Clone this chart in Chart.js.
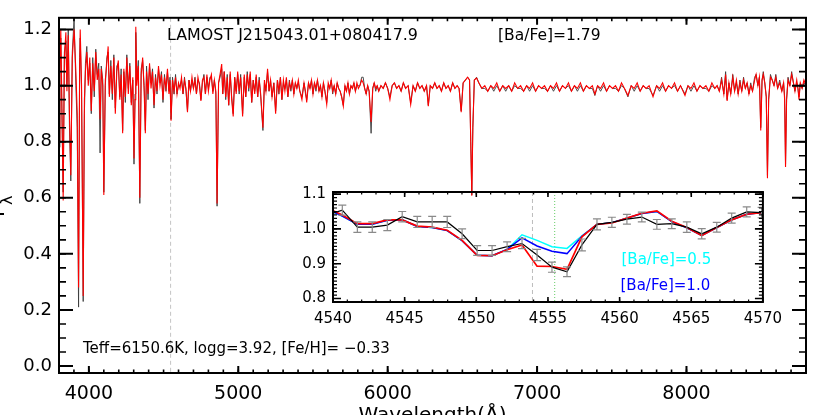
<!DOCTYPE html>
<html>
<head>
<meta charset="utf-8">
<script src="https://cdn.jsdelivr.net/npm/chart.js@4.4.0/dist/chart.umd.min.js"></script>
<style>
  html, body { margin: 0; padding: 0; background: #fff; overflow: hidden; }
  #wrap { position: relative; width: 830px; height: 415px; overflow: hidden; background: #fff; }
  #mainChart { position: absolute; left: 0; top: 0; }
  #insetChart { position: absolute; left: 290px; top: 176px; }
</style>
</head>
<body>
<div id="wrap">
  <canvas id="mainChart" width="830" height="430"></canvas>
  <canvas id="insetChart" width="500" height="154"></canvas>
</div>
<script>
// full LAMOST spectrum
const specWave = [
  3800, 3806, 3812, 3819, 3828, 3836, 3846, 3853, 3862, 3870,
  3879, 3889, 3901, 3913, 3922, 3931, 3938, 3942, 3951, 3962,
  3970, 3977, 3986, 3996, 4006, 4016, 4026, 4036, 4046, 4056,
  4066, 4075, 4083, 4093, 4100, 4110, 4120, 4129, 4137, 4147,
  4157, 4167, 4177, 4187, 4197, 4207, 4216, 4226, 4234, 4244,
  4254, 4264, 4274, 4284, 4294, 4302, 4309, 4314, 4321, 4331,
  4341, 4350, 4360, 4370, 4378, 4386, 4396, 4406, 4416, 4426,
  4436, 4446, 4456, 4466, 4476, 4486, 4496, 4506, 4516, 4526,
  4536, 4543, 4550, 4560, 4570, 4580, 4590, 4600, 4610, 4620,
  4630, 4640, 4650, 4660, 4670, 4680, 4690, 4700, 4710, 4720,
  4730, 4740, 4750, 4760, 4770, 4780, 4790, 4800, 4810, 4820,
  4830, 4840, 4850, 4858, 4868, 4878, 4889, 4896, 4906, 4916,
  4926, 4936, 4946, 4956, 4966, 4976, 4986, 4996, 5006, 5016,
  5029, 5040, 5050, 5060, 5070, 5080, 5090, 5100, 5110, 5120,
  5130, 5140, 5150, 5165, 5175, 5185, 5196, 5206, 5216, 5226,
  5238, 5250, 5262, 5272, 5282, 5292, 5302, 5312, 5322, 5332,
  5342, 5352, 5362, 5372, 5382, 5392, 5402, 5412, 5426, 5440,
  5450, 5458, 5470, 5480, 5490, 5500, 5510, 5520, 5530, 5540,
  5550, 5560, 5570, 5580, 5592, 5602, 5612, 5622, 5632, 5642,
  5652, 5662, 5672, 5682, 5692, 5703, 5714, 5724, 5734, 5744,
  5754, 5764, 5774, 5784, 5794, 5804, 5814, 5826, 5836, 5846,
  5856, 5866, 5876, 5889, 5900, 5910, 5920, 5930, 5940, 5955,
  5970, 5985, 6000, 6015, 6030, 6045, 6060, 6075, 6090, 6105,
  6120, 6137, 6154, 6170, 6185, 6200, 6215, 6230, 6245, 6260,
  6272, 6285, 6300, 6315, 6330, 6345, 6360, 6375, 6390, 6405,
  6420, 6435, 6450, 6465, 6478, 6492, 6505, 6520, 6535, 6548,
  6556, 6563, 6570, 6580, 6595, 6610, 6630, 6650, 6670, 6690,
  6710, 6730, 6750, 6770, 6790, 6810, 6830, 6850, 6870, 6890,
  6910, 6930, 6950, 6970, 6990, 7010, 7030, 7050, 7070, 7090,
  7110, 7130, 7150, 7170, 7190, 7210, 7230, 7250, 7270, 7290,
  7310, 7330, 7350, 7370, 7387, 7405, 7425, 7445, 7465, 7485,
  7505, 7525, 7545, 7565, 7585, 7608, 7630, 7650, 7670, 7690,
  7710, 7730, 7750, 7776, 7800, 7820, 7840, 7860, 7880, 7900,
  7920, 7940, 7960, 7990, 8010, 8030, 8050, 8070, 8090, 8110,
  8130, 8150, 8170, 8190, 8205, 8220, 8235, 8250, 8262, 8272,
  8284, 8296, 8310, 8322, 8334, 8346, 8358, 8370, 8382, 8394,
  8406, 8418, 8430, 8442, 8456, 8466, 8478, 8488, 8497, 8506,
  8514, 8524, 8534, 8542, 8550, 8562, 8574, 8586, 8598, 8610,
  8624, 8638, 8650, 8657, 8663, 8670, 8680, 8692, 8704, 8716,
  8726, 8738, 8746, 8753, 8762, 8774, 8786, 8800,
];
const specModel = [
  0.80, 1.05, 1.20, 0.95, 0.59, 1.10, 1.19, 0.98, 1.18, 0.90,
  0.68, 1.10, 1.20, 1.05, 0.90, 0.28, 1.05, 1.20, 1.00, 0.25,
  0.95, 1.05, 1.12, 1.00, 1.10, 0.91, 1.08, 0.98, 1.12, 1.02,
  1.06, 0.88, 1.06, 1.00, 0.61, 1.02, 1.08, 1.14, 0.96, 1.07,
  0.97, 1.10, 0.90, 1.05, 1.09, 0.95, 1.04, 0.83, 1.06, 0.96,
  1.10, 0.97, 1.07, 0.93, 1.03, 0.74, 0.95, 1.21, 1.00, 1.07,
  0.60, 1.04, 1.10, 0.98, 0.83, 1.05, 0.97, 1.08, 0.99, 1.05,
  0.93, 1.03, 0.98, 1.07, 1.00, 1.04, 0.95, 1.03, 0.99, 1.06,
  0.97, 1.02, 0.875, 1.02, 0.98, 1.03, 0.97, 1.01, 0.99, 1.03,
  0.97, 1.02, 0.99, 0.905, 1.02, 0.98, 1.03, 0.99, 1.02, 0.97,
  1.03, 1.00, 0.945, 1.02, 1.03, 0.97, 1.04, 0.98, 1.02, 1.04,
  0.97, 1.02, 0.98, 0.58, 1.01, 1.04, 1.077, 0.97, 1.05, 0.96,
  1.03, 0.93, 1.05, 0.95, 0.89, 1.03, 0.97, 1.05, 0.98, 1.03,
  0.89, 1.04, 0.96, 1.04, 0.99, 1.05, 0.94, 1.02, 0.97, 1.04,
  0.96, 1.02, 0.97, 0.85, 1.02, 0.98, 1.06, 0.98, 1.02, 0.96,
  1.01, 0.90, 1.02, 0.98, 1.03, 0.95, 1.02, 0.98, 1.03, 0.96,
  1.01, 0.99, 1.02, 0.97, 1.01, 0.99, 1.02, 0.98, 0.95, 1.01,
  0.98, 0.94, 1.01, 0.99, 1.02, 0.97, 1.01, 0.99, 1.02, 0.98,
  1.00, 0.96, 1.01, 0.98, 0.933, 1.01, 0.99, 1.02, 0.98, 1.00,
  0.97, 1.01, 0.99, 0.98, 0.96, 0.927, 1.00, 0.98, 1.01, 0.97,
  1.00, 0.99, 1.01, 0.98, 1.01, 0.99, 1.00, 1.02, 1.01, 0.99,
  0.97, 1.00, 0.98, 0.87, 0.99, 1.01, 0.99, 1.00, 0.98, 1.00,
  0.99, 1.01, 0.99, 0.95, 1.00, 1.01, 0.99, 1.00, 0.98, 1.01,
  0.99, 1.00, 0.933, 1.00, 0.98, 1.01, 0.99, 1.00, 0.98, 1.00,
  0.927, 1.00, 0.99, 1.01, 0.99, 1.00, 0.98, 1.01, 0.99, 1.00,
  0.98, 1.01, 0.99, 1.00, 0.99, 0.905, 1.01, 1.02, 1.03, 1.02,
  0.80, 0.607, 0.85, 1.02, 1.027, 1.01, 0.99, 1.00, 0.98, 1.00,
  0.99, 1.01, 0.98, 1.00, 0.99, 1.00, 0.98, 1.01, 0.99, 1.00,
  0.98, 1.00, 0.99, 1.01, 0.98, 1.00, 0.99, 1.00, 0.98, 1.00,
  0.99, 1.01, 0.98, 1.00, 0.99, 1.01, 0.98, 1.00, 0.99, 1.01,
  0.98, 1.00, 0.99, 1.00, 0.97, 1.00, 0.99, 1.01, 0.98, 1.00,
  0.99, 1.00, 0.98, 1.01, 0.99, 0.965, 1.00, 0.99, 1.01, 0.98,
  1.00, 0.99, 1.00, 0.96, 1.00, 0.99, 1.01, 0.98, 1.00, 0.99,
  1.01, 0.98, 1.00, 0.965, 1.00, 0.99, 1.01, 0.98, 1.00, 0.99,
  1.00, 0.98, 1.01, 0.99, 1.00, 0.98, 1.02, 0.97, 1.04, 0.945,
  1.01, 0.97, 1.03, 0.98, 1.02, 0.97, 1.01, 0.98, 1.02, 0.99,
  1.01, 0.97, 1.00, 0.98, 1.02, 1.04, 1.00, 1.03, 0.84, 1.02,
  1.04, 1.01, 0.96, 0.67, 0.95, 1.03, 1.02, 1.00, 1.03, 0.99,
  1.01, 0.98, 1.01, 0.95, 0.71, 0.95, 1.02, 1.00, 1.04, 1.01,
  0.98, 1.02, 0.99, 0.95, 1.01, 0.99, 1.02, 1.00,
];
const specObs = [
  0.78, 1.08, 1.17, 0.92, 0.62, 1.12, 1.16, 1.00, 1.20, 0.85,
  0.66, 1.12, 1.24, 1.00, 0.85, 0.21, 1.10, 1.17, 0.98, 0.23,
  0.90, 1.08, 1.14, 1.02, 1.08, 0.90, 1.10, 0.96, 1.13, 1.04,
  1.08, 0.76, 1.07, 1.02, 0.62, 1.00, 1.10, 1.12, 0.97, 1.09,
  0.95, 1.11, 0.92, 1.07, 1.08, 0.96, 1.06, 0.84, 1.05, 0.94,
  1.11, 0.99, 1.08, 0.94, 1.02, 0.72, 0.97, 1.19, 1.02, 1.09,
  0.58, 1.06, 1.09, 1.00, 0.84, 1.07, 0.95, 1.07, 1.01, 1.06,
  0.92, 1.04, 0.97, 1.06, 1.01, 1.05, 0.94, 1.04, 0.98, 1.05,
  0.98, 1.03, 0.88, 1.03, 0.97, 1.04, 0.97, 1.00, 1.00, 1.02,
  0.97, 1.03, 0.98, 0.91, 1.02, 0.98, 1.02, 0.99, 1.03, 0.97,
  1.02, 1.01, 0.95, 1.01, 1.04, 0.97, 1.03, 0.99, 1.03, 1.03,
  0.98, 1.02, 0.97, 0.57, 1.01, 1.03, 1.06, 0.97, 1.05, 0.95,
  1.04, 0.93, 1.04, 0.96, 0.90, 1.03, 0.98, 1.04, 0.97, 1.04,
  0.90, 1.03, 0.96, 1.05, 0.98, 1.04, 0.94, 1.02, 0.98, 1.03,
  0.96, 1.03, 0.96, 0.84, 1.01, 0.98, 1.05, 0.98, 1.02, 0.96,
  1.01, 0.91, 1.02, 0.97, 1.03, 0.95, 1.01, 0.99, 1.02, 0.96,
  1.02, 0.98, 1.02, 0.97, 1.01, 0.99, 1.01, 0.98, 0.96, 1.01,
  0.97, 0.95, 1.01, 0.99, 1.02, 0.97, 1.01, 0.98, 1.02, 0.98,
  1.00, 0.96, 1.01, 0.98, 0.94, 1.00, 0.99, 1.02, 0.97, 1.00,
  0.97, 1.01, 0.99, 0.98, 0.96, 0.93, 1.00, 0.98, 1.01, 0.97,
  1.00, 0.99, 1.01, 0.98, 1.00, 1.00, 1.00, 1.03, 1.03, 0.99,
  0.97, 1.00, 0.98, 0.83, 0.99, 1.01, 0.98, 1.00, 0.98, 1.00,
  0.99, 1.01, 0.99, 0.96, 1.00, 1.01, 0.99, 1.00, 0.98, 1.01,
  0.99, 1.00, 0.94, 1.00, 0.98, 1.01, 0.99, 1.00, 0.98, 1.00,
  0.93, 1.00, 0.99, 1.01, 0.99, 1.00, 0.98, 1.01, 0.99, 1.00,
  0.98, 1.01, 0.99, 1.00, 0.99, 0.91, 1.01, 1.02, 1.03, 1.02,
  0.80, 0.61, 0.85, 1.02, 1.03, 1.01, 0.99, 0.99, 0.98, 1.00,
  0.98, 1.00, 0.98, 1.00, 0.98, 1.00, 0.98, 1.00, 0.99, 0.99,
  0.98, 1.00, 0.98, 1.00, 0.98, 1.00, 0.99, 0.99, 0.98, 1.00,
  0.98, 1.00, 0.98, 1.00, 0.99, 1.00, 0.98, 1.00, 0.98, 1.00,
  0.98, 1.00, 0.99, 0.99, 0.965, 1.00, 0.98, 1.00, 0.98, 1.00,
  0.99, 0.99, 0.98, 1.00, 0.99, 0.96, 1.00, 0.98, 1.00, 0.98,
  1.00, 0.99, 0.99, 0.965, 1.00, 0.98, 1.00, 0.98, 1.00, 0.99,
  1.00, 0.98, 1.00, 0.97, 1.00, 0.98, 1.00, 0.98, 1.00, 0.99,
  0.99, 0.98, 1.00, 0.99, 1.00, 0.98, 1.03, 0.97, 1.05, 0.95,
  1.01, 0.97, 1.04, 0.98, 1.01, 0.97, 1.02, 0.98, 1.03, 0.99,
  1.01, 0.97, 1.01, 0.98, 1.03, 1.04, 1.00, 1.03, 0.85, 1.02,
  1.05, 1.01, 0.96, 0.68, 0.95, 1.04, 1.02, 1.00, 1.04, 0.99,
  1.02, 0.98, 1.01, 0.96, 0.72, 0.95, 1.03, 1.00, 1.05, 1.01,
  0.98, 1.01, 0.99, 0.96, 1.01, 0.99, 1.01, 1.00,
];

// inset: Ba II 4554 region
const insetWave = [
  4539.60, 4540.65, 4541.70, 4542.74, 4543.79, 4544.83, 4545.88, 4546.92, 4547.97, 4549.01,
  4550.06, 4551.10, 4552.15, 4553.19, 4554.24, 4555.28, 4556.33, 4557.37, 4558.42, 4559.46,
  4560.51, 4561.55, 4562.60, 4563.64, 4564.69, 4565.73, 4566.78, 4567.82, 4568.87, 4569.91,
];
const insetObs = [
  1.040, 1.054, 1.005, 1.005, 1.011, 1.035, 1.020, 1.020, 1.020, 0.986,
  0.938, 0.938, 0.949, 0.958, 0.925, 0.890, 0.877, 0.954, 1.013, 1.019,
  1.028, 1.034, 1.013, 1.015, 1.005, 0.986, 1.005, 1.031, 1.049, 1.047,
];
const insetErr = [
  0.015, 0.0145, 0.015, 0.015, 0.016, 0.015, 0.016, 0.016, 0.016, 0.014,
  0.014, 0.014, 0.014, 0.0145, 0.016, 0.0145, 0.014, 0.017, 0.016, 0.0145,
  0.014, 0.014, 0.014, 0.014, 0.015, 0.0145, 0.014, 0.0145, 0.0145, 0.015,
];
const insetBa179 = [
  1.060, 1.040, 1.015, 1.015, 1.026, 1.026, 1.008, 1.005, 0.996, 0.967,
  0.924, 0.923, 0.940, 0.954, 0.893, 0.892, 0.884, 0.977, 1.013, 1.017,
  1.031, 1.045, 1.052, 1.022, 1.004, 0.981, 1.004, 1.026, 1.042, 1.047,
];
const insetBa10 = [
  1.057, 1.037, 1.013, 1.013, 1.025, 1.026, 1.007, 1.004, 0.995, 0.966,
  0.924, 0.923, 0.941, 0.974, 0.951, 0.936, 0.929, 0.979, 1.013, 1.018,
  1.031, 1.044, 1.050, 1.021, 1.003, 0.981, 1.004, 1.026, 1.042, 1.047,
];
const insetBa05 = [
  1.057, 1.037, 1.013, 1.013, 1.025, 1.026, 1.007, 1.004, 0.995, 0.966,
  0.924, 0.923, 0.941, 0.983, 0.967, 0.949, 0.944, 0.980, 1.013, 1.018,
  1.031, 1.044, 1.050, 1.021, 1.003, 0.981, 1.004, 1.026, 1.042, 1.047,
];

const mainXTicks = [4000, 5000, 6000, 7000, 8000];
const mainYTicks = [0.0, 0.2, 0.4, 0.6, 0.8, 1.0, 1.2];
const insetXTicks = [4540, 4545, 4550, 4555, 4560, 4565, 4570];
const insetYTicks = [0.8, 0.9, 1.0, 1.1];

const FONT = "'DejaVu Sans', 'Liberation Sans', sans-serif";

function toPoints(xs, ys) {
  return xs.map((x, i) => ({ x: x, y: ys[i] }));
}

// IDL-style frame with inward ticks on all four sides
function drawFrame(chart, t) {
  const { ctx, chartArea: a } = chart;
  const xs = chart.scales.x;
  const ys = chart.scales.y;
  ctx.save();
  ctx.strokeStyle = "#000";

  const xTick = (v, len, lw) => {
    const px = xs.getPixelForValue(v);
    ctx.lineWidth = lw;
    ctx.beginPath();
    ctx.moveTo(px, a.bottom);
    ctx.lineTo(px, a.bottom - len);
    ctx.moveTo(px, a.top);
    ctx.lineTo(px, a.top + len);
    ctx.stroke();
  };
  const yTick = (v, len, lw) => {
    const py = ys.getPixelForValue(v);
    ctx.lineWidth = lw;
    ctx.beginPath();
    ctx.moveTo(a.left, py);
    ctx.lineTo(a.left + len, py);
    ctx.moveTo(a.right, py);
    ctx.lineTo(a.right - len, py);
    ctx.stroke();
  };

  for (let k = 0; ; k++) {
    const v = t.xMinorStart + k * t.xMinorStep;
    if (v > xs.max + 1e-6) break;
    xTick(v, t.xMinorLen, t.minorWidth);
  }
  for (let k = 0; ; k++) {
    const v = t.yMinorStart + k * t.yMinorStep;
    if (v > ys.max + 1e-6) break;
    yTick(v, t.yMinorLen, t.minorWidth);
  }
  t.xMajor.forEach((v) => xTick(v, t.xMajorLen, t.majorWidth));
  t.yMajor.forEach((v) => yTick(v, t.yMajorLen, t.majorWidth));

  ctx.lineWidth = t.frameWidth;
  ctx.strokeRect(a.left, a.top, a.right - a.left, a.bottom - a.top);
  ctx.restore();
}

function drawVLine(chart, value, color, dash, width) {
  const { ctx, chartArea: a } = chart;
  const px = chart.scales.x.getPixelForValue(value);
  ctx.save();
  ctx.strokeStyle = color;
  ctx.lineWidth = width;
  ctx.setLineDash(dash);
  ctx.beginPath();
  ctx.moveTo(px, a.top);
  ctx.lineTo(px, a.bottom);
  ctx.stroke();
  ctx.restore();
}

class SpectrumFigure {
  constructor() {
    Chart.defaults.font.family = FONT;
    Chart.defaults.color = "#000";
    this.initializeMainChart();
    this.initializeInsetChart();
  }

  initializeMainChart() {
    const ctx = document.getElementById("mainChart").getContext("2d");
    this.mainChart = new Chart(ctx, {
      type: "line",
      data: {
        datasets: [
          {
            label: "[Ba/Fe]=1.79",
            data: toPoints(specWave, specModel),
            borderColor: "#ff0000",
            borderWidth: 1.1,
            pointRadius: 0,
            tension: 0,
            order: 0,
          },
          {
            label: "LAMOST",
            data: toPoints(specWave, specObs),
            borderColor: "#3c3c3c",
            borderWidth: 0.9,
            pointRadius: 0,
            tension: 0,
            order: 1,
          },
        ],
      },
      options: {
        responsive: false,
        animation: false,
        events: [],
        layout: { padding: { top: 12, right: 24, left: 0, bottom: 0 } },
        plugins: { legend: { display: false }, tooltip: { enabled: false } },
        scales: {
          x: {
            type: "linear",
            min: 3800,
            max: 8800,
            grid: { display: false, drawTicks: false },
            border: { display: false },
            ticks: {
              font: { size: 19 },
              padding: 10,
              maxRotation: 0,
              autoSkip: false,
              callback: (v) => String(v),
            },
            afterBuildTicks: (s) => {
              s.ticks = mainXTicks.map((v) => ({ value: v }));
            },
            afterFit: (s) => {
              s.height = 57;
            },
            title: {
              display: true,
              text: "Wavelength(Å)",
              font: { size: 20 },
              padding: { top: 0, bottom: 2 },
            },
          },
          y: {
            type: "linear",
            min: -0.025,
            max: 1.242,
            grid: { display: false, drawTicks: false },
            border: { display: false },
            ticks: {
              font: { size: 18 },
              padding: 7,
              autoSkip: false,
              callback: (v) => v.toFixed(1),
            },
            afterBuildTicks: (s) => {
              s.ticks = mainYTicks.map((v) => ({ value: v }));
            },
            afterFit: (s) => {
              s.width = 59;
            },
          },
        },
      },
      plugins: [
        {
          id: "mainDecor",
          beforeDatasetsDraw: (chart) => {
            drawVLine(chart, 4547, "#c4c4c4", [4, 3], 1);
          },
          afterDraw: (chart) => {
            drawFrame(chart, {
              xMajor: mainXTicks, xMinorStart: 3800, xMinorStep: 100,
              yMajor: mainYTicks, yMinorStart: 0, yMinorStep: 0.05,
              xMajorLen: 7, xMinorLen: 3.5, yMajorLen: 14, yMinorLen: 7,
              majorWidth: 2, minorWidth: 1.6, frameWidth: 2,
            });
            const c = chart.ctx;
            c.save();
            c.fillStyle = "#000";
            c.textBaseline = "alphabetic";
            c.font = `15.9px ${FONT}`;
            c.fillText("LAMOST J215043.01+080417.9", 167, 40);
            c.font = `15.5px ${FONT}`;
            c.fillText("[Ba/Fe]=1.79", 498, 40);
            c.font = `15px ${FONT}`;
            c.fillText("Teff=6150.6K, logg=3.92, [Fe/H]= \u22120.33", 83, 352.5);
            // y title, mostly outside the window
            c.translate(4, 217);
            c.rotate(-Math.PI / 2);
            c.font = `20px ${FONT}`;
            c.fillText("F", 0, 0);
            c.font = `16px ${FONT}`;
            c.fillText("\u03bb", 12, 8);
            c.restore();
          },
        },
      ],
    });
  }

  initializeInsetChart() {
    const ctx = document.getElementById("insetChart").getContext("2d");
    const line = (label, ys, color, width, order) => ({
      label: label,
      data: toPoints(insetWave, ys),
      borderColor: color,
      borderWidth: width,
      pointRadius: 0,
      tension: 0,
      order: order,
    });
    this.insetChart = new Chart(ctx, {
      type: "line",
      data: {
        datasets: [
          line("observed", insetObs, "#000000", 1.2, 0),
          line("[Ba/Fe]=1.79", insetBa179, "#ff0000", 1.7, 1),
          line("[Ba/Fe]=1.0", insetBa10, "#0000ff", 1.5, 2),
          line("[Ba/Fe]=0.5", insetBa05, "#00ffff", 1.5, 3),
        ],
      },
      options: {
        responsive: false,
        animation: false,
        events: [],
        layout: { padding: { top: 10, right: 25, left: 0, bottom: 0 } },
        plugins: { legend: { display: false }, tooltip: { enabled: false } },
        scales: {
          x: {
            type: "linear",
            min: 4540,
            max: 4570,
            grid: { display: false, drawTicks: false },
            border: { display: false },
            ticks: {
              font: { size: 15 },
              padding: 8,
              maxRotation: 0,
              autoSkip: false,
              callback: (v) => String(v),
            },
            afterBuildTicks: (s) => {
              s.ticks = insetXTicks.map((v) => ({ value: v }));
            },
            afterFit: (s) => {
              s.height = 28;
            },
          },
          y: {
            type: "linear",
            min: 0.79,
            max: 1.106,
            grid: { display: false, drawTicks: false },
            border: { display: false },
            ticks: {
              font: { size: 15 },
              padding: 7,
              autoSkip: false,
              callback: (v) => v.toFixed(1),
            },
            afterBuildTicks: (s) => {
              s.ticks = insetYTicks.map((v) => ({ value: v }));
            },
            afterFit: (s) => {
              s.width = 43;
            },
          },
        },
      },
      plugins: [
        {
          id: "insetDecor",
          beforeDatasetsDraw: (chart) => {
            drawVLine(chart, 4553.92, "#bdbdbd", [4, 3], 1);
            drawVLine(chart, 4555.47, "#66cc66", [1, 2], 1);
          },
          afterDatasetsDraw: (chart) => {
            const { ctx: c, chartArea: a } = chart;
            const xs = chart.scales.x;
            const ys = chart.scales.y;
            c.save();
            c.beginPath();
            c.rect(a.left, a.top, a.right - a.left, a.bottom - a.top);
            c.clip();
            c.strokeStyle = "#8a8a8a";
            c.lineWidth = 1.2;
            insetWave.forEach((w, i) => {
              const px = xs.getPixelForValue(w);
              const top = ys.getPixelForValue(insetObs[i] + insetErr[i]);
              const bot = ys.getPixelForValue(insetObs[i] - insetErr[i]);
              c.beginPath();
              c.moveTo(px, top);
              c.lineTo(px, bot);
              c.moveTo(px - 4, top);
              c.lineTo(px + 4, top);
              c.moveTo(px - 4, bot);
              c.lineTo(px + 4, bot);
              c.stroke();
            });
            c.restore();
          },
          afterDraw: (chart) => {
            drawFrame(chart, {
              xMajor: insetXTicks, xMinorStart: 4540, xMinorStep: 1,
              yMajor: insetYTicks, yMinorStart: 0.79, yMinorStep: 0.01,
              xMajorLen: 5, xMinorLen: 2.5, yMajorLen: 8, yMinorLen: 4,
              majorWidth: 1.6, minorWidth: 1.2, frameWidth: 2,
            });
            const c = chart.ctx;
            c.save();
            c.font = `15px ${FONT}`;
            c.textBaseline = "alphabetic";
            c.fillStyle = "#00ffff";
            c.fillText("[Ba/Fe]=0.5", 331.5, 88);
            c.fillStyle = "#0000ff";
            c.fillText("[Ba/Fe]=1.0", 330.5, 113.5);
            c.restore();
          },
        },
      ],
    });
  }
}

document.addEventListener("DOMContentLoaded", () => {
  new SpectrumFigure();
});
</script>
</body>
</html>
